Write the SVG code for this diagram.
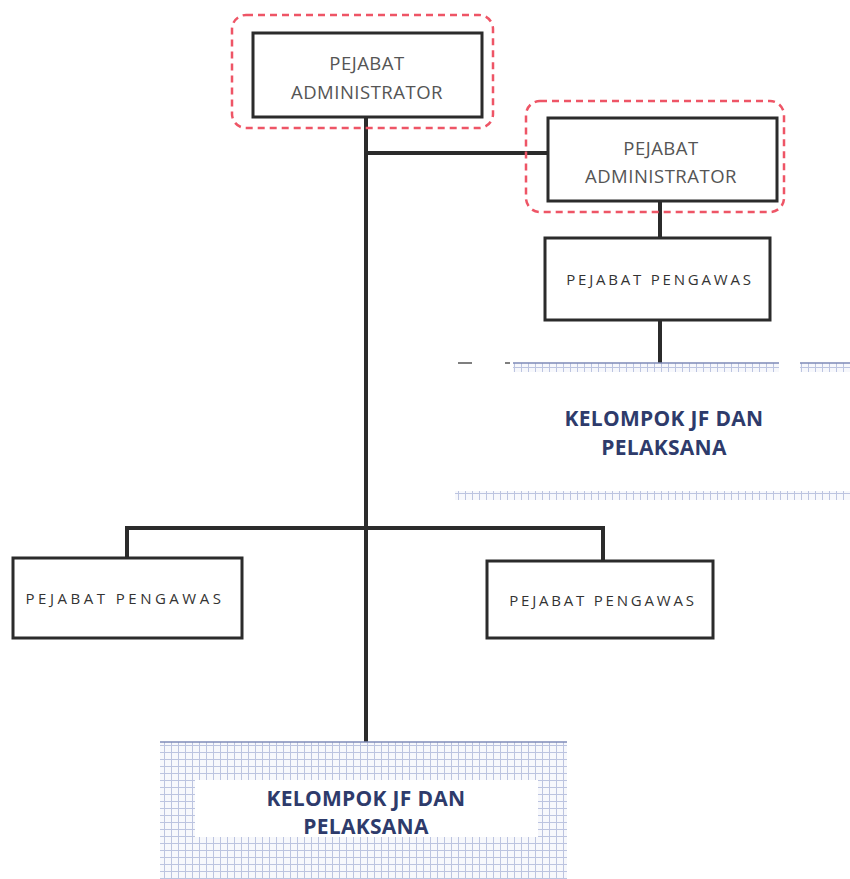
<svg xmlns="http://www.w3.org/2000/svg" width="850" height="879" viewBox="0 0 850 879">
<style>
.box{fill:#fff;stroke:#2b2b2b;stroke-width:3}
.halo{fill:none;stroke:#ee5566;stroke-width:2.5;stroke-dasharray:7 5}
.adm{font-family:"Open Sans","Liberation Sans",sans-serif;font-size:18.5px;fill:#555;text-anchor:middle;letter-spacing:0.5px}
.peng{font-family:"Open Sans","Liberation Sans",sans-serif;font-size:15px;fill:#333;text-anchor:middle;letter-spacing:2.8px}
.kel{font-family:"Open Sans","Liberation Sans",sans-serif;font-size:21px;font-weight:bold;fill:#2e3b6b;text-anchor:middle;letter-spacing:0.3px}
.ln{fill:none;stroke:#2b2b2b;stroke-width:4}
.grid{fill:url(#grid)}
</style>
<defs>
<pattern id="grid" width="7" height="7" patternUnits="userSpaceOnUse">
<rect width="7" height="7" fill="#f7f8fc"/>
<path d="M0 3.5H7M3.5 0V7" stroke="#bcc4e0" stroke-width="1"/>
</pattern>
</defs>
<g id="connectors">
<path class="ln" d="M366 117V742"/>
<path class="ln" d="M366 153H548"/>
<path class="ln" d="M660 201V238"/>
<path class="ln" d="M660 320V363"/>
<path class="ln" d="M127 558V528H603V561"/>
</g>
<g id="admin1">
<rect class="halo" x="232" y="15" width="261" height="113" rx="14"/>
<rect class="box" x="253" y="33" width="229" height="84"/>
<text class="adm" x="367" y="70">PEJABAT</text>
<text class="adm" x="367" y="99">ADMINISTRATOR</text>
</g>
<g id="admin2">
<rect class="halo" x="526" y="101" width="258" height="111" rx="14"/>
<rect class="box" x="548" y="118" width="229" height="83"/>
<text class="adm" x="661" y="155">PEJABAT</text>
<text class="adm" x="661" y="183">ADMINISTRATOR</text>
</g>
<g id="pengawas_top">
<rect class="box" x="545" y="238" width="225" height="82"/>
<text class="peng" x="660" y="285">PEJABAT PENGAWAS</text>
</g>
<g id="kelompok_top">
<rect class="grid" x="513" y="363" width="266" height="9"/>
<rect class="grid" x="800" y="363" width="50" height="9"/>
<path d="M513 363H779M800 363H850" stroke="#7f8bb8" stroke-width="1.5"/>
<path d="M458 363H472M505 363H510" stroke="#555" stroke-width="1.5"/>
<rect class="grid" x="455" y="491" width="395" height="9"/>
<text class="kel" x="664" y="426">KELOMPOK JF DAN</text>
<text class="kel" x="664" y="455">PELAKSANA</text>
</g>
<g id="pengawas_left">
<rect class="box" x="13" y="558" width="229" height="80"/>
<text class="peng" x="125" y="604" style="letter-spacing:3.5px">PEJABAT PENGAWAS</text>
</g>
<g id="pengawas_right">
<rect class="box" x="487" y="561" width="226" height="77"/>
<text class="peng" x="603" y="606">PEJABAT PENGAWAS</text>
</g>
<g id="kelompok_bottom">
<rect class="grid" x="160" y="742" width="407" height="137"/>
<rect x="195" y="780" width="343" height="57" fill="#fff"/>
<path d="M160 742H567" stroke="#7f8bb8" stroke-width="1.5"/>
<text class="kel" x="366" y="806">KELOMPOK JF DAN</text>
<text class="kel" x="366" y="834">PELAKSANA</text>
</g>
</svg>
